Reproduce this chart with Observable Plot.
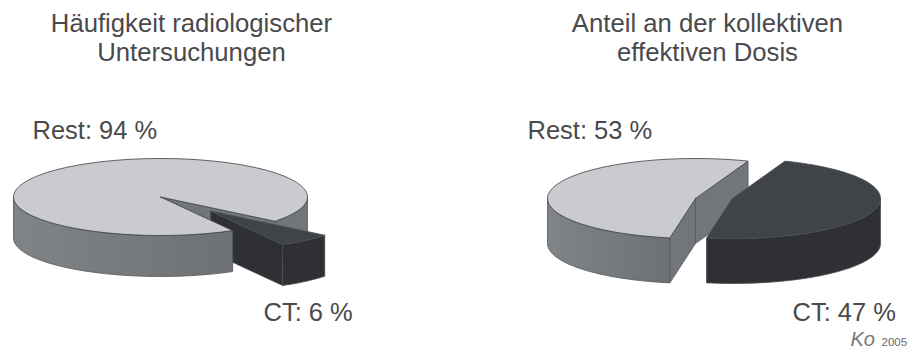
<!DOCTYPE html>
<html lang="de">
<head>
<meta charset="utf-8">
<title>CT-Anteil</title>
<script src="https://cdn.jsdelivr.net/npm/d3@7"></script>
<script src="https://cdn.jsdelivr.net/npm/@observablehq/plot@0.6"></script>
<style>
  html, body { margin: 0; padding: 0; background: #fff; }
  svg { display: block; }
</style>
</head>
<body>
<div id="chart"></div>
<script>
// Shares in percent
const frequencyShares = {rest: 94, ct: 6};
const doseShares = {rest: 53, ct: 47};

const chartTitles = [
  {text: "Häufigkeit radiologischer", x: 191, y: 31},
  {text: "Untersuchungen", x: 191, y: 60},
  {text: "Anteil an der kollektiven", x: 707, y: 31},
  {text: "effektiven Dosis", x: 707, y: 60}
];
const sliceLabels = [
  {text: `Rest: ${frequencyShares.rest} %`, x: 32, y: 138},
  {text: `CT: ${frequencyShares.ct} %`, x: 263, y: 320},
  {text: `Rest: ${doseShares.rest} %`, x: 527, y: 138},
  {text: `CT: ${doseShares.ct} %`, x: 792, y: 320}
];

// Drawing constants for the two tilted discs (angles clockwise from east, in degrees)
const frequencyPie = {
  shares: frequencyShares, rx: 147, ry: 38.5, depth: 41,
  center: [160, 196.5], ctOffset: [50, 14], ctStart: 39, ctOnTop: false
};
const dosePie = {
  shares: doseShares, rx: 148, ry: 40, depth: 45,
  center: [695, 198], ctOffset: [37, 0], ctStart: -69.2, ctOnTop: true
};

const colors = {
  restTop: "#c9cbce", restWall: "#72767a", restLine: "#3c3e41", restWallLine: "#55585b",
  ctTop: "#404347", ctWall: "#2e3034", ctLine: "#4c4f53"
};

const rimPoint = (pie, c, angle, drop = 0) => {
  const t = angle * Math.PI / 180;
  return {x: c[0] + pie.rx * Math.cos(t), y: c[1] + pie.ry * Math.sin(t) + drop};
};
const arcPoints = (pie, c, a0, a1, drop = 0) => {
  const n = Math.max(2, Math.ceil(Math.abs(a1 - a0) / 2));
  return d3.range(n + 1).map(i => rimPoint(pie, c, a0 + (a1 - a0) * i / n, drop));
};
const closed = pts => [...pts, pts[0]];

// Upper surface of a slice
const topFace = (pie, c, a0, a1) => closed([{x: c[0], y: c[1]}, ...arcPoints(pie, c, a0, a1)]);

// Outer wall of a slice, limited to the half of the rim that faces the viewer
const rimWalls = (pie, c, a0, a1) => {
  const walls = [];
  for (let k = -1; k <= 1; ++k) {
    const lo = Math.max(a0, k * 360), hi = Math.min(a1, k * 360 + 180);
    if (lo < hi) walls.push({
      from: lo,
      points: closed([...arcPoints(pie, c, lo, hi), ...arcPoints(pie, c, hi, lo, pie.depth)])
    });
  }
  return walls;
};

// Flat cut wall running from the disc's centre to the rim
const cutWall = (pie, c, angle) => {
  const rim = rimPoint(pie, c, angle), rimLow = rimPoint(pie, c, angle, pie.depth);
  return closed([{x: c[0], y: c[1]}, rim, rimLow, {x: c[0], y: c[1] + pie.depth}]);
};

const face = (points, fill, stroke) =>
  Plot.line(points, {x: "x", y: "y", fill, stroke, strokeWidth: 0.8, curve: "linear", strokeLinejoin: "round"});

function pieMarks(pie) {
  const ctSweep = pie.shares.ct * 3.6, restSweep = pie.shares.rest * 3.6;
  const ctA0 = pie.ctStart, ctA1 = ctA0 + ctSweep;
  const restA0 = ctA1, restA1 = restA0 + restSweep;
  const c = pie.center;
  const ctC = [c[0] + pie.ctOffset[0], c[1] + pie.ctOffset[1]];

  const wall = (pts, fill) => face(pts, fill, colors.restWallLine);
  const ct = (pts, fill) => face(pts, fill, colors.ctLine);

  const ctMarks = [
    ct(cutWall(pie, ctC, ctA1), colors.ctWall),
    ...rimWalls(pie, ctC, ctA0, ctA1).map(w => ct(w.points, colors.ctWall)),
    ct(topFace(pie, ctC, ctA0, ctA1), colors.ctTop)
  ];
  const restRim = rimWalls(pie, c, restA0, restA1);
  const rimBehind = restRim.filter(w => w.from >= 360).map(w => wall(w.points, colors.restWall));
  const rimFront = restRim.filter(w => w.from < 360).map(w => wall(w.points, "url(#restWallShade)"));
  const restTop = face(topFace(pie, c, restA0, restA1), colors.restTop, colors.restLine);
  const endCut = wall(cutWall(pie, c, restA1), colors.restWall);

  return pie.ctOnTop
    ? [endCut, wall(cutWall(pie, c, restA0), colors.restWall), ...rimFront, restTop, ...ctMarks]
    : [endCut, ...rimBehind, ...ctMarks, ...rimFront, restTop];
}

// Horizontal shading across the curved front wall of the light slice
const shadeDefs = () => {
  const defs = d3.create("svg:defs");
  const g = defs.append("linearGradient").attr("id", "restWallShade");
  g.append("stop").attr("offset", "0%").attr("stop-color", "#808487");
  g.append("stop").attr("offset", "100%").attr("stop-color", "#6d7174");
  return defs.node();
};

const textStyle = {
  x: "x", y: "y", text: "text", fill: "#4a4a4c",
  fontFamily: "'Liberation Sans', Arial, sans-serif", lineAnchor: "bottom"
};

const chart = Plot.plot({
  width: 914,
  height: 351,
  margin: 0,
  x: {domain: [0, 914], axis: null},
  y: {domain: [351, 0], axis: null},
  marks: [
    shadeDefs,
    ...pieMarks(frequencyPie),
    ...pieMarks(dosePie),
    Plot.text(chartTitles, {...textStyle, fontSize: 25.7, textAnchor: "middle"}),
    Plot.text(sliceLabels, {...textStyle, fontSize: 25.5, textAnchor: "start"}),
    Plot.text([{text: "Ko", x: 850, y: 345}], {...textStyle, fontSize: 20, fontStyle: "italic", textAnchor: "start", fill: "#777"}),
    Plot.text([{text: "2005", x: 881, y: 345}], {...textStyle, fontSize: 11.5, textAnchor: "start", fill: "#6a6a6a"})
  ]
});
document.getElementById("chart").append(chart);
</script>
</body>
</html>
